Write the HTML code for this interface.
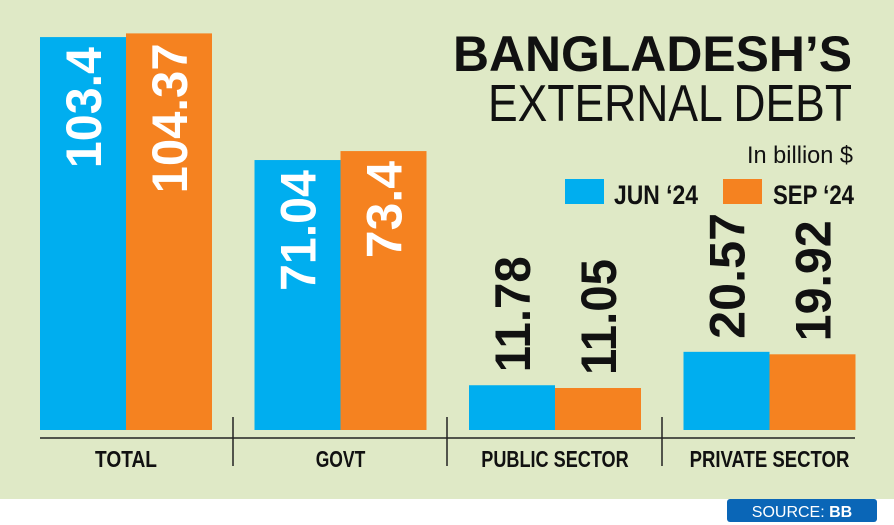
<!DOCTYPE html>
<html><head><meta charset="utf-8"><style>
html,body{margin:0;padding:0;background:#fff;}
svg{display:block;}
text{font-family:"Liberation Sans Narrow","Liberation Sans",sans-serif;}
</style></head><body>
<svg id="chart" width="894" height="525" viewBox="0 0 894 525" xmlns="http://www.w3.org/2000/svg">
<rect x="0" y="0" width="894" height="499" fill="#dfe9c6"/>
<g>
<text x="852" y="71" text-anchor="end" font-family="Liberation Sans" font-weight="bold" font-size="50" textLength="399" lengthAdjust="spacingAndGlyphs" fill="#111">BANGLADESH’S</text>
<text x="852" y="121" text-anchor="end" font-family="Liberation Sans" font-size="52" textLength="364" lengthAdjust="spacingAndGlyphs" fill="#111">EXTERNAL DEBT</text>
<text x="853" y="163" text-anchor="end" font-size="24" textLength="106" lengthAdjust="spacingAndGlyphs" fill="#111">In billion $</text>
</g>
<g>
<rect x="565" y="179" width="39" height="25" fill="#00aeef"/>
<text x="614" y="204" font-weight="bold" font-size="27" textLength="84" lengthAdjust="spacingAndGlyphs" fill="#111">JUN ‘24</text>
<rect x="723" y="179" width="39" height="25" fill="#f58220"/>
<text x="773" y="204" font-weight="bold" font-size="27" textLength="81" lengthAdjust="spacingAndGlyphs" fill="#111">SEP ‘24</text>
</g>
<g id="bars"></g>
<g>
<line x1="40" y1="438" x2="855" y2="438" stroke="#222" stroke-width="1.5"/>
<line x1="233" y1="417" x2="233" y2="466" stroke="#222" stroke-width="1.5"/>
<line x1="447" y1="417" x2="447" y2="466" stroke="#222" stroke-width="1.5"/>
<line x1="662" y1="417" x2="662" y2="466" stroke="#222" stroke-width="1.5"/>
</g>
<g id="cats"></g>
<rect x="727" y="499" width="150" height="23" rx="3" fill="#0a66b7"/>
<text x="802" y="517" text-anchor="middle" font-family="Liberation Sans" font-size="16" fill="#fff">SOURCE: <tspan font-weight="bold">BB</tspan></text>
</svg>
<script>
const categories = ["TOTAL","GOVT","PUBLIC SECTOR","PRIVATE SECTOR"];
const junValues = [103.4, 71.04, 11.78, 20.57];
const sepValues = [104.37, 73.4, 11.05, 19.92];
const junLabels = ["103.4","71.04","11.78","20.57"];
const sepLabels = ["104.37","73.4","11.05","19.92"];

const NS = "http://www.w3.org/2000/svg";
const baseY = 430, pxPerUnit = 3.8;
const groupX0 = 40, groupStep = 214.5, barW = 86;
function yScale(v){ return baseY - v * pxPerUnit; }
function xGroup(i){ return groupX0 + i * groupStep; }
function mk(tag, attrs, parent){ const e = document.createElementNS(NS, tag); for (const k in attrs) e.setAttribute(k, attrs[k]); parent.appendChild(e); return e; }
function labelLen(s){ let l = 0; for (const c of s) l += (c === '.') ? 10 : (c === '1' ? 24 : 29); return l; }
function catLen(s){ let l = 0; for (const c of s) l += (c === ' ') ? 5 : (c === 'I' ? 6 : 12.4); return l; }

const bars = document.getElementById('bars');
const cats = document.getElementById('cats');
const series = [
  {vals: junValues, labels: junLabels, color: "#00aeef", key: "jun"},
  {vals: sepValues, labels: sepLabels, color: "#f58220", key: "sep"}
];
categories.forEach((c, i) => {
  series.forEach((s, j) => {
    const x = xGroup(i) + j * barW;
    const v = s.vals[i];
    const top = yScale(v);
    const r = mk('rect', {x: x, y: top, width: barW, height: baseY - top, fill: s.color}, bars);
    
    
    const label = s.labels[i];
    const len = labelLen(label);
    const cx = x + barW / 2 + 18;
    const inside = (baseY - top) > len + 30;
    let startY, fill;
    if (inside) { startY = top + 10 + len; fill = "#fff"; }
    else { startY = top - 13; fill = "#111"; }
    const t = mk('text', {x: cx, y: startY, transform: 'rotate(-90 ' + cx + ' ' + startY + ')', 'font-weight': 'bold', 'font-size': '50', fill: fill, textLength: len, lengthAdjust: 'spacingAndGlyphs'}, bars);
    t.textContent = label;
    
    
  });
  const ct = mk('text', {x: xGroup(i) + barW, y: 467, 'text-anchor': 'middle', 'font-weight': 'bold', 'font-size': '23', fill: '#111', textLength: catLen(c), lengthAdjust: 'spacingAndGlyphs'}, cats);
  ct.textContent = c;
  
  
});
</script>
</body></html>
